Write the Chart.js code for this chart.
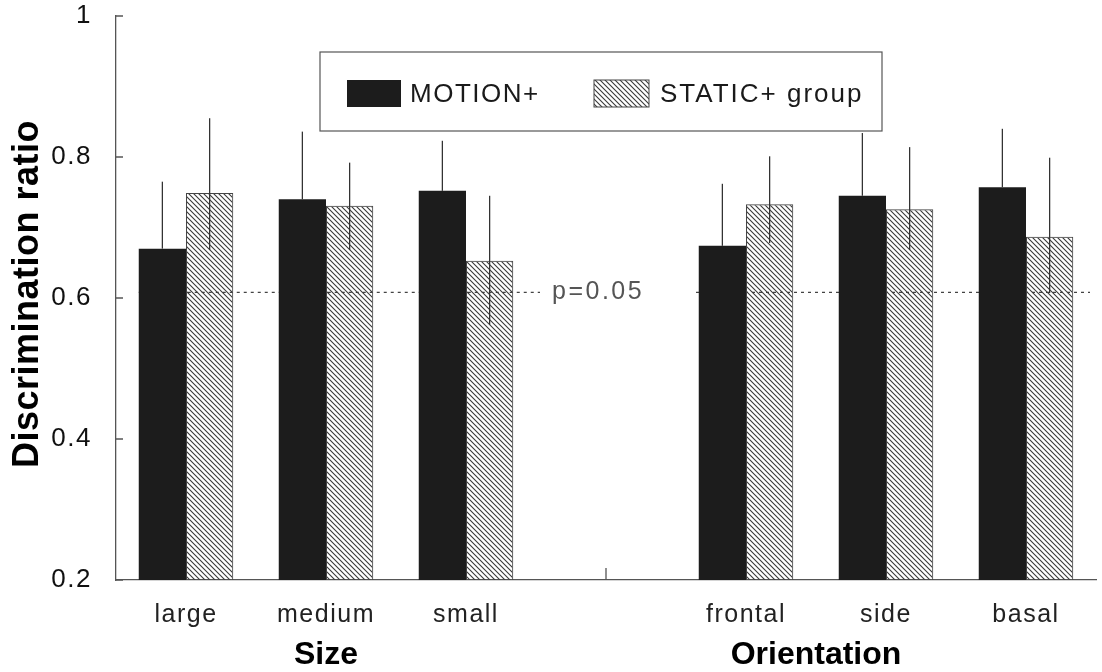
<!DOCTYPE html>
<html>
<head>
<meta charset="utf-8">
<script src="https://cdn.jsdelivr.net/npm/chart.js@4.4.0/dist/chart.umd.min.js"></script>
<style>
html,body{margin:0;padding:0;background:#fff;}
</style>
</head>
<body>
<canvas id="barChart" width="1102" height="672"></canvas>
<script>
// values (empty slot between the two groups)
var categories = ['large', 'medium', 'small', '', 'frontal', 'side', 'basal'];
var motionMean = [0.670, 0.740, 0.752, null, 0.674, 0.745, 0.757];
var motionHigh = [0.765, 0.836, 0.823, null, 0.762, 0.834, 0.840];
var staticMean = [0.749, 0.731, 0.653, null, 0.733, 0.726, 0.687];
var staticHigh = [0.855, 0.792, 0.745, null, 0.801, 0.814, 0.799];
var staticLow  = [0.668, 0.668, 0.562, null, 0.678, 0.668, 0.607];
var yTicks = [0.2, 0.4, 0.6, 0.8, 1];
var pLevel = 0.608;
var pText = 'p=0.05';
var yTitle = 'Discrimination ratio';
var groupNames = ['Size', 'Orientation'];

var FONT = '"Liberation Sans", Arial, Helvetica, sans-serif';
var ctx = document.getElementById('barChart').getContext('2d');

// diagonal hatch for the STATIC+ bars
function makeHatch(color){
	var s = 5;
	var c = document.createElement('canvas');
	c.width = s; c.height = s;
	var g = c.getContext('2d');
	g.strokeStyle = color;
	g.lineWidth = 1.1;
	g.beginPath();
	g.moveTo(0, 0); g.lineTo(s, s);
	g.moveTo(-1, s - 1); g.lineTo(1, s + 1);
	g.moveTo(s - 1, -1); g.lineTo(s + 1, 1);
	g.stroke();
	return ctx.createPattern(c, 'repeat');
}
var hatch = makeHatch('#3a3a3a');

var extras = {
	id: 'extras',
	beforeDraw: function(chart){
		chart.ctx.letterSpacing = '1.5px';
	},
	beforeDatasetsDraw: function(chart){//dotted p=0.05 line, under the bars
		var c = chart.ctx, x = chart.scales.x, y = chart.scales.y, a = chart.chartArea;
		var py = y.getPixelForValue(pLevel);
		var textX = x.getPixelForValue(3) - 54;
		var first = chart.getDatasetMeta(0).data[0];
		c.save();
		c.strokeStyle = '#444';
		c.lineWidth = 1.2;
		c.setLineDash([3, 4]);
		c.beginPath();
		c.moveTo(first.x - first.width / 2, py); c.lineTo(textX - 12, py);
		c.moveTo(x.getPixelForValue(4) - 50, py); c.lineTo(a.right - 6, py);
		c.stroke();
		c.setLineDash([]);
		c.letterSpacing = '2.5px';
		c.fillStyle = '#555';
		c.font = '25px ' + FONT;
		c.textAlign = 'left';
		c.textBaseline = 'middle';
		c.fillText(pText, textX, py);
		c.restore();
	},
	afterDatasetsDraw: function(chart){//error bars
		var c = chart.ctx, y = chart.scales.y;
		var sets = [
			{meta: chart.getDatasetMeta(0), hi: motionHigh, lo: motionMean},
			{meta: chart.getDatasetMeta(1), hi: staticHigh, lo: staticLow}
		];
		c.save();
		c.strokeStyle = '#333';
		c.lineWidth = 1.3;
		sets.forEach(function(s){
			s.meta.data.forEach(function(bar, i){
				if (s.hi[i] == null) return;
				c.beginPath();
				c.moveTo(bar.x, y.getPixelForValue(s.hi[i]));
				c.lineTo(bar.x, y.getPixelForValue(s.lo[i]));
				c.stroke();
			});
		});
		c.restore();
	},
	afterDraw: function(chart){
		var c = chart.ctx, x = chart.scales.x, y = chart.scales.y, a = chart.chartArea;
		c.save();
		c.letterSpacing = '0px';
		// inward ticks
		c.strokeStyle = '#555';
		c.lineWidth = 1.3;
		c.beginPath();
		yTicks.forEach(function(v){
			var py = y.getPixelForValue(v);
			c.moveTo(a.left, py); c.lineTo(a.left + 7, py);
		});
		var mx = x.getPixelForValue(3);
		c.moveTo(mx, a.bottom); c.lineTo(mx, a.bottom - 12);
		c.stroke();

		// y axis title
		c.save();
		c.translate(28, (a.top + a.bottom) / 2 - 4);
		c.rotate(-Math.PI / 2);
		c.fillStyle = '#000';
		c.font = 'bold 36px ' + FONT;
		c.letterSpacing = '0.5px';
		c.textAlign = 'center';
		c.textBaseline = 'middle';
		c.fillText(yTitle, 0, 0);
		c.restore();

		// group labels
		c.fillStyle = '#000';
		c.font = 'bold 32px ' + FONT;
		c.textAlign = 'center';
		c.textBaseline = 'middle';
		c.fillText(groupNames[0], x.getPixelForValue(1), 655);
		c.fillText(groupNames[1], (x.getPixelForValue(4) + x.getPixelForValue(5)) / 2, 655);

		// legend box
		var lx = 320, ly = 52;
		c.strokeStyle = '#555';
		c.lineWidth = 1.2;
		c.strokeRect(lx, ly, 562, 79);
		var ds = chart.data.datasets;
		c.fillStyle = ds[0].backgroundColor;
		c.fillRect(lx + 27, ly + 28, 54, 27);
		c.fillStyle = ds[1].backgroundColor;
		c.fillRect(lx + 274, ly + 28, 55, 27);
		c.strokeStyle = '#444';
		c.lineWidth = 1;
		c.strokeRect(lx + 274, ly + 28, 55, 27);
		c.fillStyle = '#1a1a1a';
		c.font = '26px ' + FONT;
		c.textAlign = 'left';
		c.letterSpacing = '1.5px';
		c.fillText(ds[0].label, lx + 90, ly + 43);
		c.letterSpacing = '2px';
		c.fillText(ds[1].label, lx + 340, ly + 43);
		c.restore();
		chart.ctx.letterSpacing = '0px';
	}
};

var chart = new Chart(ctx, {
	type: 'bar',
	data: {
		labels: categories,
		datasets: [
			{label: 'MOTION+', data: motionMean, backgroundColor: '#1c1c1c', borderWidth: 0},
			{label: 'STATIC+ group', data: staticMean, backgroundColor: hatch, borderColor: '#444', borderWidth: 1}
		]
	},
	options: {
		responsive: false,
		animation: false,
		layout: {padding: {top: 16, right: 6, left: 0, bottom: 0}},
		datasets: {bar: {barPercentage: 1, categoryPercentage: 0.675}},
		plugins: {legend: {display: false}, tooltip: {enabled: false}},
		scales: {
			x: {
				grid: {display: false},
				border: {display: true, color: '#555', width: 1.3},
				ticks: {color: '#222', font: {family: FONT, size: 25}, padding: 12, maxRotation: 0, autoSkip: false},
				afterFit: function(s){ s.height = 92; }
			},
			y: {
				min: 0.2,
				max: 1,
				afterBuildTicks: function(s){ s.ticks = yTicks.map(function(v){ return {value: v}; }); },
				grid: {display: false},
				border: {display: true, color: '#555', width: 1.3},
				ticks: {
					color: '#111',
					font: {family: FONT, size: 26},
					padding: 16,
					callback: function(v){ return String(Math.round(v * 10) / 10); }
				},
				afterFit: function(s){ s.width = 116; s.paddingTop = 0; s.paddingBottom = 0; }
			}
		}
	},
	plugins: [extras]
});
</script>
</body>
</html>
